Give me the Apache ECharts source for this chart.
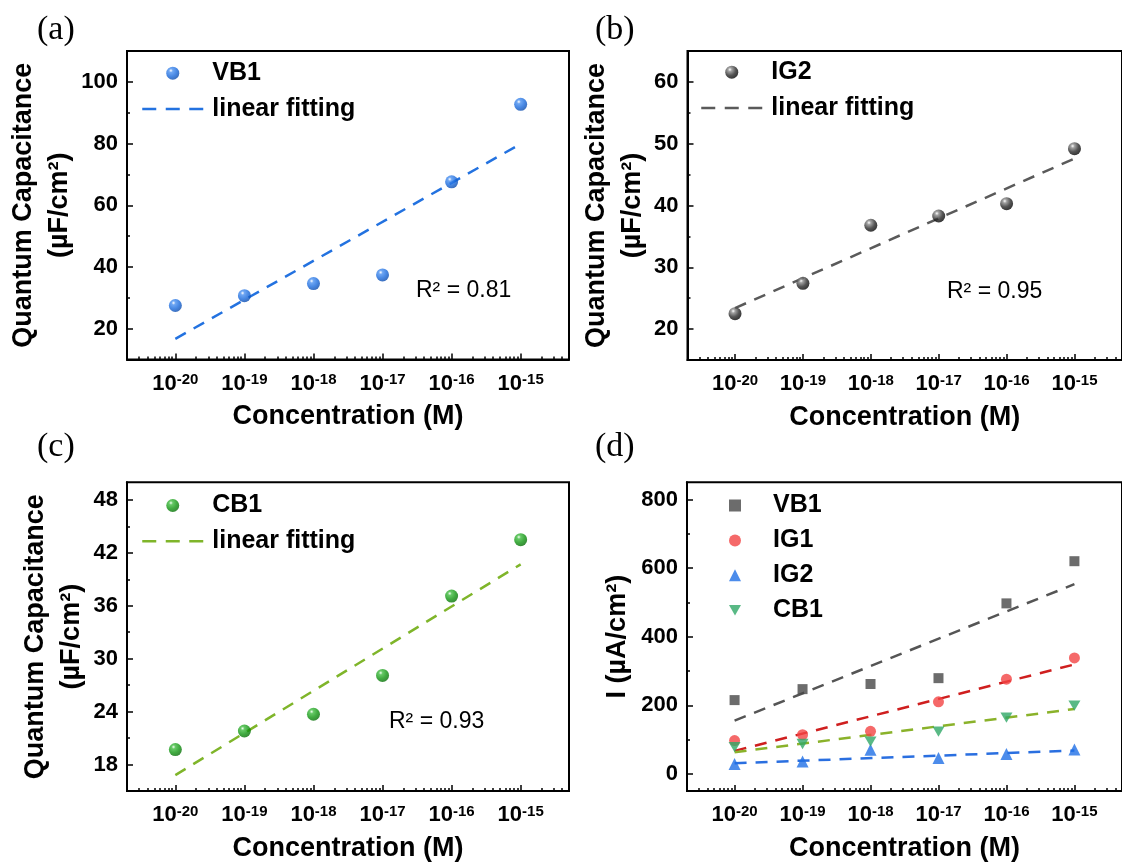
<!DOCTYPE html>
<html><head><meta charset="utf-8">
<script src="https://cdn.jsdelivr.net/npm/echarts@6/dist/echarts.min.js"></script>
<style>html,body{margin:0;padding:0;background:#fff}#c{width:1122px;height:863px}</style>
</head><body><div id="c"></div>
<script>
// ---- data (x = log10 of concentration in M) ----
const exps = [-20, -19, -18, -17, -16, -15];
const fitX = [-20, -15];
// (a) VB1 quantum capacitance (uF/cm2)
const capVB1 = [27.5, 30.7, 34.6, 37.4, 67.6, 92.7];
const fitVB1 = [16.7, 79.9];
// (b) IG2
const capIG2 = [22.5, 27.4, 36.8, 38.3, 40.3, 49.2];
const fitIG2 = [23.4, 47.6];
// (c) CB1
const capCB1 = [19.7, 21.8, 23.7, 28.1, 37.1, 43.5];
const fitCB1 = [16.8, 40.7];
// (d) current (uA/cm2)
const iVB1 = [215, 247, 262, 279, 497, 620];
const iVB1fit = [155, 553];
const iIG1 = [97, 114, 124, 210, 276, 338];
const iIG1fit = [67, 319];
const iIG2 = [29, 36, 70, 46, 58, 71];
const iIG2fit = [31, 68];
const iCB1 = [78, 87, 94, 123, 164, 199];
const iCB1fit = [63, 189];
// y tick labels
const yTicksA = [20, 40, 60, 80, 100];
const yTicksB = [20, 30, 40, 50, 60];
const yTicksC = [18, 24, 30, 36, 42, 48];
const yTicksD = [0, 200, 400, 600, 800];
const r2 = ['R² = 0.81', 'R² = 0.95', 'R² = 0.93'];

// ---- helpers ----
const SANS = 'Liberation Sans, Arial, sans-serif';
const XMIN = -20.7, XMAX = -14.3;
const minorX = [];
for (let n = -21; n <= -15; n++) for (let k = 2; k <= 9; k++) {
  const v = n + Math.log10(k);
  if (v > XMIN && v < XMAX) minorX.push(v);
}
const pair = (xs, ys) => xs.map((x, i) => [x, ys[i]]);
const label = {}; // series id -> legend text

const grids = [
  {left: 127, top: 51, width: 442, height: 308.5},
  {left: 687.5, top: 51, width: 442, height: 309},
  {left: 127, top: 482.3, width: 442, height: 310},
  {left: 687, top: 482.3, width: 442, height: 310}
].map(g => Object.assign({show: true, borderColor: '#000', borderWidth: 2, backgroundColor: 'transparent'}, g));

const xAxis = [], yAxis = [];
grids.forEach((g, gi) => {
  xAxis.push({
    type: 'value', gridIndex: gi, position: 'bottom', min: XMIN, max: XMAX,
    splitLine: {show: false},
    axisLine: {onZero: false, lineStyle: {color: '#000', width: 2}},
    axisTick: {inside: true, length: 6, lineStyle: {color: '#000', width: 1.5}, customValues: exps},
    axisLabel: {
      customValues: exps, margin: 13,
      formatter: v => '{b|10}{s|' + v + '}',
      rich: {
        b: {fontSize: 22, fontWeight: 'bold', fontFamily: SANS, color: '#000', verticalAlign: 'bottom', lineHeight: 22},
        s: {fontSize: 15, fontWeight: 'bold', fontFamily: SANS, color: '#000', verticalAlign: 'top', lineHeight: 17}
      }
    },
    name: 'Concentration (M)', nameLocation: 'middle', nameGap: 44,
    nameTextStyle: {fontFamily: SANS, fontWeight: 'bold', fontSize: 27, color: '#000', lineHeight: 27}
  });
  xAxis.push({
    type: 'value', gridIndex: gi, position: 'bottom', min: XMIN, max: XMAX,
    splitLine: {show: false}, axisLine: {show: false, onZero: false},
    axisTick: {inside: true, length: 3, lineStyle: {color: '#000', width: 1.5}, customValues: minorX},
    axisLabel: {show: false}
  });
});

function yPair(gi, min, max, ticks, minors, name, gap) {
  yAxis.push({
    type: 'value', gridIndex: gi, position: 'left', min: min, max: max,
    splitLine: {show: false},
    axisLine: {onZero: false, lineStyle: {color: '#000', width: 2}},
    axisTick: {inside: true, length: 6, lineStyle: {color: '#000', width: 1.5}, customValues: ticks},
    axisLabel: {customValues: ticks, margin: 9, fontSize: 22, fontWeight: 'bold', fontFamily: SANS, color: '#000'},
    name: name, nameLocation: 'middle', nameGap: gap,
    nameTextStyle: {fontFamily: SANS, fontWeight: 'bold', fontSize: 27, color: '#000', lineHeight: 36}
  });
  yAxis.push({
    type: 'value', gridIndex: gi, position: 'left', min: min, max: max,
    splitLine: {show: false}, axisLine: {show: false, onZero: false},
    axisTick: {inside: true, length: 3, lineStyle: {color: '#000', width: 1.5}, customValues: minors},
    axisLabel: {show: false}
  });
}
yPair(0, 10, 110, yTicksA, [30, 50, 70, 90], 'Quantum Capacitance\n(µF/cm²)', 45);
yPair(1, 15, 65, yTicksB, [25, 35, 45, 55], 'Quantum Capacitance\n(µF/cm²)', 32);
yPair(2, 15, 50, yTicksC, [21, 27, 33, 39, 45], 'Quantum Capacitance\n(µF/cm²)', 32);
yPair(3, -50, 850, yTicksD, [100, 300, 500, 700], 'I (µA/cm²)', 51);

function sphere(c0, c1, c2, c3) {
  return {type: 'radial', x: 0.36, y: 0.3, r: 0.75,
    colorStops: [{offset: 0, color: c0}, {offset: 0.2, color: c1}, {offset: 0.6, color: c2}, {offset: 1, color: c3}]};
}
const blueSphere = sphere('#ffffff', '#4a90f0', '#1a6adc', '#0a48a8');
const blackSphere = sphere('#ffffff', '#8a8a8a', '#2a2a2a', '#000000');
const greenSphere = sphere('#f0fff0', '#40bb40', '#119511', '#066c06');

const series = [];
function capPanel(gi, key, name, ys, fit, sph, lineColor) {
  label[key + 'fit'] = 'linear fitting';
  label[key + 'pts'] = name;
  series.push({
    name: key + 'fit', type: 'line', xAxisIndex: gi * 2, yAxisIndex: gi * 2,
    data: pair(fitX, fit), symbol: 'none', z: 2,
    lineStyle: {color: lineColor, width: 2.5, type: [12, 9]}, itemStyle: {color: lineColor}
  });
  series.push({
    name: key + 'pts', type: 'scatter', xAxisIndex: gi * 2, yAxisIndex: gi * 2,
    data: pair(exps, ys), symbol: 'circle', symbolSize: 13, z: 3,
    itemStyle: {color: sph}
  });
}
capPanel(0, 'a', 'VB1', capVB1, fitVB1, blueSphere, '#2372e0');
capPanel(1, 'b', 'IG2', capIG2, fitIG2, blackSphere, '#5a5a5a');
capPanel(2, 'c', 'CB1', capCB1, fitCB1, greenSphere, '#7fb52a');

// (d)
const downTri = 'path://M0,0L10,0L5,8.66Z';
const dSets = [
  {name: 'VB1', ys: iVB1, fit: iVB1fit, color: '#474747', fitColor: '#555555', symbol: 'rect', size: 10},
  {name: 'IG1', ys: iIG1, fit: iIG1fit, color: '#f24444', fitColor: '#cf1f1f', symbol: 'circle', size: 11},
  {name: 'IG2', ys: iIG2, fit: iIG2fit, color: '#1f6fe6', fitColor: '#2a6fe0', symbol: 'triangle', size: 12},
  {name: 'CB1', ys: iCB1, fit: iCB1fit, color: '#2fa866', fitColor: '#8ab22a', symbol: downTri, size: [12, 10.4]}
];
dSets.forEach(d => {
  series.push({
    name: 'dfit' + d.name, type: 'line', xAxisIndex: 6, yAxisIndex: 6,
    data: pair(fitX, d.fit), symbol: 'none', z: 2,
    lineStyle: {color: d.fitColor, width: 2.5, type: [12, 9]}
  });
});
dSets.forEach(d => {
  label['d' + d.name] = d.name;
  series.push({
    name: 'd' + d.name, type: 'scatter', xAxisIndex: 6, yAxisIndex: 6,
    data: pair(exps, d.ys), symbol: d.symbol, symbolSize: d.size, z: 3,
    itemStyle: {color: d.color}
  });
});

const legTxt = {fontFamily: SANS, fontWeight: 'bold', fontSize: 25, color: '#000', lineHeight: 24};
const fmt = n => label[n];
function capLegend(key, left, top) {
  return {
    orient: 'vertical', left: left, top: top, padding: 0, itemWidth: 61, itemHeight: 13, itemGap: 10.7,
    textStyle: Object.assign({padding: [0, 0, 0, 4]}, legTxt), selectedMode: false, formatter: fmt,
    data: [{name: key + 'pts'},
           {name: key + 'fit', itemStyle: {opacity: 0}, lineStyle: {width: 2.5, type: [14, 9.5]}}]
  };
}
const legend = [
  capLegend('a', 141, 60.7),
  capLegend('b', 700, 59.7),
  capLegend('c', 141, 493),
  {orient: 'vertical', left: 729, top: 493, padding: 0, itemWidth: 12, itemHeight: 12, itemGap: 9.9,
   textStyle: Object.assign({padding: [0, 0, 0, 27]}, legTxt), selectedMode: false, formatter: fmt,
   data: ['VB1', 'IG1', 'IG2', 'CB1'].map(n => n === 'CB1' ? {name: 'd' + n, icon: downTri} : {name: 'd' + n})}
];

const chart = echarts.init(document.getElementById('c'), null, {renderer: 'canvas'});
chart.setOption({
  backgroundColor: '#fff',
  animation: false,
  grid: grids, xAxis: xAxis, yAxis: yAxis, series: series, legend: legend,
  graphic: [
    {type: 'text', left: 37, top: 13, style: {text: '(a)', font: '34px Liberation Serif', fill: '#000'}},
    {type: 'text', left: 595, top: 13, style: {text: '(b)', font: '34px Liberation Serif', fill: '#000'}},
    {type: 'text', left: 37, top: 430, style: {text: '(c)', font: '34px Liberation Serif', fill: '#000'}},
    {type: 'text', left: 595, top: 430, style: {text: '(d)', font: '34px Liberation Serif', fill: '#000'}},
    {type: 'text', left: 416, top: 279, style: {text: r2[0], font: '23px Liberation Sans', fill: '#000'}},
    {type: 'text', left: 947, top: 280, style: {text: r2[1], font: '23px Liberation Sans', fill: '#000'}},
    {type: 'text', left: 389, top: 710, style: {text: r2[2], font: '23px Liberation Sans', fill: '#000'}}
  ]
});
</script></body></html>
